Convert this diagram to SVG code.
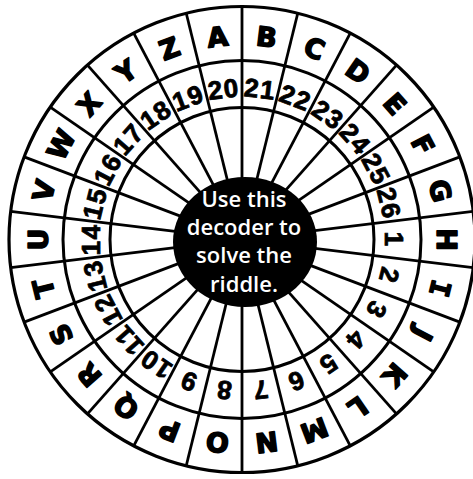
<svg xmlns="http://www.w3.org/2000/svg" width="473" height="479" viewBox="0 0 473 479">
<style>
.ring{fill:none;stroke:#000;stroke-width:3}
.spoke{stroke:#000;stroke-width:2.8}
.let{font-family:"DejaVu Sans",sans-serif;font-weight:bold;font-size:27px;fill:#000;stroke:#000;stroke-width:1.5;stroke-linejoin:round;text-anchor:middle}
.mono{font-family:"DejaVu Sans Mono",monospace}
.num{font-family:"Liberation Sans",Arial,sans-serif;font-weight:bold;font-size:26px;fill:#000;stroke:#000;stroke-width:0.8;text-anchor:middle;letter-spacing:1.5px}
.ctr{font-family:"Open Sans",sans-serif;font-weight:600;font-size:22px;fill:#fff;text-anchor:middle}
</style>
<rect width="473" height="479" fill="#fff"/>
<g id="rings">
<circle class="ring" cx="242" cy="239.5" r="233" style="stroke-width:3.2"/>
<circle class="ring" cx="242" cy="239.5" r="179"/>
<circle class="ring" cx="242" cy="239.5" r="132"/>
</g>
<g id="spokes">
<line class="spoke" x1="242" y1="6.5" x2="242" y2="472.5" transform="rotate(0 242 239.5)"/>
<line class="spoke" x1="242" y1="6.5" x2="242" y2="472.5" transform="rotate(13.846 242 239.5)"/>
<line class="spoke" x1="242" y1="6.5" x2="242" y2="472.5" transform="rotate(27.692 242 239.5)"/>
<line class="spoke" x1="242" y1="6.5" x2="242" y2="472.5" transform="rotate(41.538 242 239.5)"/>
<line class="spoke" x1="242" y1="6.5" x2="242" y2="472.5" transform="rotate(55.385 242 239.5)"/>
<line class="spoke" x1="242" y1="6.5" x2="242" y2="472.5" transform="rotate(69.231 242 239.5)"/>
<line class="spoke" x1="242" y1="6.5" x2="242" y2="472.5" transform="rotate(83.077 242 239.5)"/>
<line class="spoke" x1="242" y1="6.5" x2="242" y2="472.5" transform="rotate(96.923 242 239.5)"/>
<line class="spoke" x1="242" y1="6.5" x2="242" y2="472.5" transform="rotate(110.769 242 239.5)"/>
<line class="spoke" x1="242" y1="6.5" x2="242" y2="472.5" transform="rotate(124.615 242 239.5)"/>
<line class="spoke" x1="242" y1="6.5" x2="242" y2="472.5" transform="rotate(138.462 242 239.5)"/>
<line class="spoke" x1="242" y1="6.5" x2="242" y2="472.5" transform="rotate(152.308 242 239.5)"/>
<line class="spoke" x1="242" y1="6.5" x2="242" y2="472.5" transform="rotate(166.154 242 239.5)"/>
</g>
<g id="letters">
<text class="let" x="242" y="45" transform="rotate(-6.923 242 239.5)">A</text>
<text class="let" x="242" y="45" transform="rotate(6.923 242 239.5)">B</text>
<text class="let" x="242" y="45" transform="rotate(20.769 242 239.5)">C</text>
<text class="let" x="242" y="45" transform="rotate(34.615 242 239.5)">D</text>
<text class="let" x="242" y="45" transform="rotate(48.462 242 239.5)">E</text>
<text class="let" x="242" y="45" transform="rotate(62.308 242 239.5)">F</text>
<text class="let" x="242" y="45" transform="rotate(76.154 242 239.5)">G</text>
<text class="let" x="242" y="45" transform="rotate(90 242 239.5)">H</text>
<text class="let mono" x="242" y="45" transform="rotate(103.846 242 239.5)">I</text>
<text class="let" x="242" y="45" transform="rotate(117.692 242 239.5)">J</text>
<text class="let" x="242" y="45" transform="rotate(131.538 242 239.5)">K</text>
<text class="let" x="242" y="45" transform="rotate(145.385 242 239.5)">L</text>
<text class="let" x="242" y="45" transform="rotate(159.231 242 239.5)">M</text>
<text class="let" x="242" y="45" transform="rotate(173.077 242 239.5)">N</text>
<text class="let" x="242" y="45" transform="rotate(186.923 242 239.5)">O</text>
<text class="let" x="242" y="45" transform="rotate(200.769 242 239.5)">P</text>
<text class="let" x="242" y="45" transform="rotate(214.615 242 239.5)">Q</text>
<text class="let" x="242" y="45" transform="rotate(228.462 242 239.5)">R</text>
<text class="let" x="242" y="45" transform="rotate(242.308 242 239.5)">S</text>
<text class="let" x="242" y="45" transform="rotate(256.154 242 239.5)">T</text>
<text class="let" x="242" y="45" transform="rotate(270 242 239.5)">U</text>
<text class="let" x="242" y="45" transform="rotate(283.846 242 239.5)">V</text>
<text class="let" x="242" y="45" transform="rotate(297.692 242 239.5)">W</text>
<text class="let" x="242" y="45" transform="rotate(311.538 242 239.5)">X</text>
<text class="let" x="242" y="45" transform="rotate(325.385 242 239.5)">Y</text>
<text class="let" x="242" y="45" transform="rotate(339.231 242 239.5)">Z</text>
</g>
<g id="numbers">
<text class="num" x="242" y="97" transform="rotate(-6.923 242 239.5)">20</text>
<text class="num" x="242" y="97" transform="rotate(6.923 242 239.5)">21</text>
<text class="num" x="242" y="97" transform="rotate(20.769 242 239.5)">22</text>
<text class="num" x="242" y="97" transform="rotate(34.615 242 239.5)">23</text>
<text class="num" x="242" y="97" transform="rotate(48.462 242 239.5)">24</text>
<text class="num" x="242" y="97" transform="rotate(62.308 242 239.5)">25</text>
<text class="num" x="242" y="97" transform="rotate(76.154 242 239.5)">26</text>
<text class="num" x="242" y="97" transform="rotate(90 242 239.5)">1</text>
<text class="num" x="242" y="97" transform="rotate(103.846 242 239.5)">2</text>
<text class="num" x="242" y="97" transform="rotate(117.692 242 239.5)">3</text>
<text class="num" x="242" y="97" transform="rotate(131.538 242 239.5)">4</text>
<text class="num" x="242" y="97" transform="rotate(145.385 242 239.5)">5</text>
<text class="num" x="242" y="97" transform="rotate(159.231 242 239.5)">6</text>
<text class="num" x="242" y="97" transform="rotate(173.077 242 239.5)">7</text>
<text class="num" x="242" y="97" transform="rotate(186.923 242 239.5)">8</text>
<text class="num" x="242" y="97" transform="rotate(200.769 242 239.5)">9</text>
<text class="num" x="242" y="97" transform="rotate(214.615 242 239.5)">10</text>
<text class="num" x="242" y="97" transform="rotate(228.462 242 239.5)">11</text>
<text class="num" x="242" y="97" transform="rotate(242.308 242 239.5)">12</text>
<text class="num" x="242" y="97" transform="rotate(256.154 242 239.5)">13</text>
<text class="num" x="242" y="97" transform="rotate(270 242 239.5)">14</text>
<text class="num" x="242" y="97" transform="rotate(283.846 242 239.5)">15</text>
<text class="num" x="242" y="97" transform="rotate(297.692 242 239.5)">16</text>
<text class="num" x="242" y="97" transform="rotate(311.538 242 239.5)">17</text>
<text class="num" x="242" y="97" transform="rotate(325.385 242 239.5)">18</text>
<text class="num" x="242" y="97" transform="rotate(339.231 242 239.5)">19</text>
</g>
<g id="center">
<ellipse cx="245" cy="242" rx="72" ry="65" fill="#000"/>
<text class="ctr" x="244" y="206.5">Use this</text>
<text class="ctr" x="244" y="235">decoder to</text>
<text class="ctr" x="244" y="263">solve the</text>
<text class="ctr" x="244" y="291.5">riddle.</text>
</g>
</svg>
